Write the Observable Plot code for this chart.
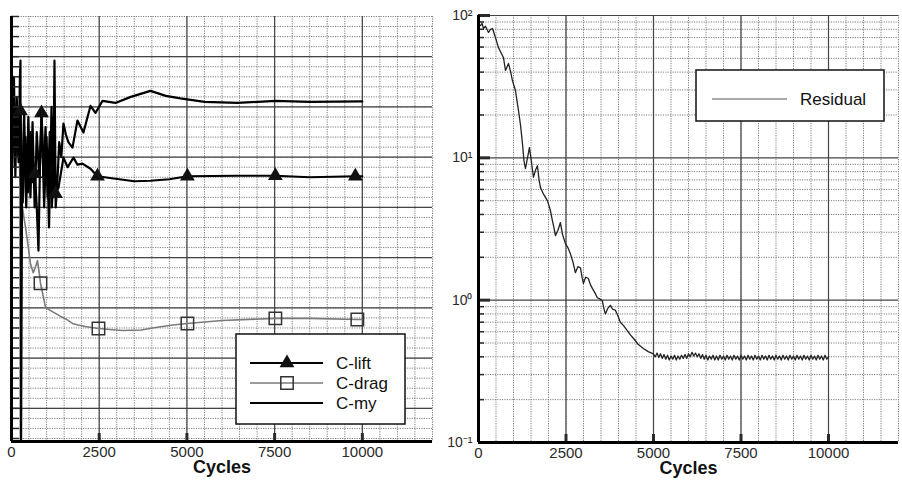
<!DOCTYPE html>
<html><head><meta charset="utf-8">
<script src="https://cdn.jsdelivr.net/npm/d3@7"></script>
<script src="https://cdn.jsdelivr.net/npm/@observablehq/plot@0.6"></script>
<style>
body{margin:0;background:#fff;}
#wrap{position:relative;width:902px;height:485px;font-family:"Liberation Sans",Arial,sans-serif;}
#left{position:absolute;left:0;top:0;}
#right{position:absolute;left:445px;top:0;}
</style></head><body><div id="wrap"><div id="left"></div><div id="right"></div></div>
<script>
// ---------- shared x ticks ----------
const xTickValues = [0, 2500, 5000, 7500, 10000];
const xTickLabels = ["0", "2500", "5000", "7500", "10000"];
const xMajorGrid = [2500, 5000, 7500, 10000];
const xMinorGrid = d3.range(500, 12001, 500);
const axisTitle = "Cycles";

// ---------- left panel: coefficients ----------
const myCycles = [0, 30, 70, 110, 150, 200, 240, 256, 262, 268, 300, 360, 420, 480, 540, 600, 660, 720, 790, 860, 930, 1000, 1070, 1140, 1190, 1225, 1260, 1300, 1360, 1420, 1481, 1550, 1620, 1738, 1880, 2051, 2251, 2393, 2593, 2963, 3400, 3960, 4400, 4815, 5500, 6439, 7521, 8500, 10000];
const myValues = [8.0, 6.2, 7.6, 5.6, 7.2, 5.9, 7.6, 7.92, 3.0, -0.5, 5.2, 6.9, 5.0, 6.8, 5.2, 6.7, 5.0, 6.5, 5.6, 6.9, 5.0, 6.4, 4.6, 7.0, 5.2, 7.92, 5.0, 5.4, 6.3, 6.0, 6.67, 6.45, 6.3, 6.19, 6.73, 6.49, 7.02, 6.88, 7.12, 7.08, 7.20, 7.32, 7.22, 7.17, 7.10, 7.08, 7.12, 7.10, 7.11];

const liftCycles = [0, 40, 90, 140, 200, 256, 320, 400, 470, 540, 610, 670, 720, 769, 810, 855, 910, 970, 1030, 1090, 1150, 1200, 1254, 1339, 1481, 1600, 1766, 1880, 2023, 2251, 2450, 2963, 3500, 3960, 4500, 5014, 6439, 7521, 8500, 9801, 10000];
const liftValues = [6.4, 7.0, 5.8, 6.8, 6.0, 6.92, 5.1, 6.4, 5.3, 6.5, 5.5, 5.67, 5.0, 4.14, 5.8, 6.88, 5.6, 6.6, 5.2, 6.5, 5.0, 5.8, 5.27, 5.39, 5.99, 5.80, 5.99, 5.85, 5.87, 5.77, 5.62, 5.57, 5.52, 5.53, 5.56, 5.62, 5.63, 5.63, 5.60, 5.62, 5.62];
const liftMarkerCycles = [256, 670, 855, 1254, 2450, 5014, 7521, 9801];
const liftMarkerValues = [6.92, 5.67, 6.88, 5.27, 5.62, 5.62, 5.63, 5.62];

const dragCycles = [0, 30, 70, 120, 180, 240, 313, 400, 480, 541, 620, 700, 740, 790, 826, 900, 969, 1100, 1254, 1400, 1550, 1738, 1900, 2100, 2479, 2800, 3162, 3700, 4103, 4600, 5014, 6000, 7521, 8500, 9858, 10000];
const dragValues = [7.8, 6.3, 7.4, 6.0, 6.8, 5.6, 4.98, 4.6, 4.2, 3.88, 3.70, 3.85, 3.94, 3.70, 3.49, 3.25, 3.01, 2.95, 2.89, 2.83, 2.78, 2.69, 2.66, 2.63, 2.59, 2.57, 2.55, 2.56, 2.61, 2.66, 2.69, 2.75, 2.79, 2.79, 2.77, 2.77];
const dragMarkerCycles = [826, 2479, 5014, 7521, 9858];
const dragMarkerValues = [3.49, 2.59, 2.69, 2.79, 2.77];

const leftYDomain = [0.34, 8.8];
const leftYMajor = [1, 2, 3, 4, 5, 6, 7, 8];
const leftYMinor = d3.range(0.4, 8.81, 0.2).map(v => +v.toFixed(1));
const leftLegend = ["C-lift", "C-drag", "C-my"];

// ---------- right panel: residual ----------
const resCycles = [57, 100, 143, 200, 285, 340, 400, 485, 571, 640, 713, 771, 856, 920, 970, 1056, 1142, 1200, 1256, 1300, 1341, 1400, 1455, 1510, 1570, 1630, 1684, 1730, 1769, 1850, 1969, 2050, 2112, 2160, 2198, 2270, 2340, 2400, 2483, 2550, 2626, 2700, 2768, 2840, 2911, 2960, 2997, 3060, 3139, 3200, 3253, 3330, 3396, 3470, 3539, 3580, 3624, 3700, 3767, 3840, 3910, 3980, 4053, 4150, 4252, 4340, 4424, 4560, 4709, 4850, 4994,
  5050, 5100, 5150, 5200, 5250, 5300, 5350, 5400, 5450, 5500, 5550, 5600, 5650, 5700, 5750, 5800, 5850, 5900, 5950, 6000, 6050, 6100, 6150, 6200, 6250, 6300, 6350, 6400, 6450, 6500, 6550, 6600, 6650, 6700, 6750, 6800, 6850, 6900, 6950, 7000, 7050, 7100, 7150, 7200, 7250, 7300, 7350, 7400, 7450, 7500, 7550, 7600, 7650, 7700, 7750, 7800, 7850, 7900, 7950, 8000, 8050, 8100, 8150, 8200, 8250, 8300, 8350, 8400, 8450, 8500, 8550, 8600, 8650, 8700, 8750, 8800, 8850, 8900, 8950, 9000, 9050, 9100, 9150, 9200, 9250, 9300, 9350, 9400, 9450, 9500, 9550, 9600, 9650, 9700, 9750, 9800, 9850, 9900, 9950, 10000];
const resValues = [85, 88, 81, 84, 76, 80, 81, 70, 59.5, 55, 50.7, 41.1, 46, 40, 34.9, 29.7, 21.5, 17, 12.6, 9.5, 8.4, 10, 11.8, 9.5, 7.3, 8.2, 8.8, 7.0, 6.2, 5.6, 5.0, 4.3, 3.62, 3.2, 2.84, 3.1, 3.51, 2.9, 2.50, 2.35, 2.12, 1.85, 1.56, 1.72, 1.69, 1.45, 1.31, 1.45, 1.42, 1.28, 1.21, 1.12, 1.04, 1.02, 0.99, 0.88, 0.80, 0.88, 0.92, 0.86, 0.85, 0.78, 0.70, 0.66, 0.61, 0.57, 0.54, 0.49, 0.457, 0.435, 0.42,
  0.40, 0.425, 0.395, 0.42, 0.39, 0.415, 0.385, 0.41, 0.38, 0.405, 0.385, 0.41, 0.38, 0.405, 0.385, 0.41, 0.39, 0.415, 0.39, 0.42, 0.40, 0.43, 0.405, 0.425, 0.40, 0.42, 0.39, 0.415, 0.385, 0.41, 0.38, 0.405, 0.385, 0.41, 0.38, 0.405, 0.38, 0.41, 0.385, 0.405, 0.38, 0.41, 0.385, 0.405, 0.38, 0.41, 0.385, 0.405, 0.38, 0.41, 0.385, 0.405, 0.38, 0.41, 0.385, 0.405, 0.38, 0.41, 0.385, 0.405, 0.38, 0.41, 0.385, 0.405, 0.38, 0.41, 0.385, 0.405, 0.38, 0.41, 0.385, 0.405, 0.38, 0.41, 0.385, 0.405, 0.38, 0.41, 0.385, 0.405, 0.38, 0.41, 0.385, 0.405, 0.38, 0.41, 0.385, 0.405, 0.38, 0.41, 0.385, 0.405, 0.38, 0.41, 0.385, 0.405, 0.38, 0.41, 0.385, 0.40];
const rightYTicks = [0.1, 1, 10, 100];
const rightYLabels = ["10\u207B\u00B9", "10\u2070", "10\u00B9", "10\u00B2"];
const rightYMinor = [0.2, 0.3, 0.4, 0.5, 0.6, 0.7, 0.8, 0.9, 2, 3, 4, 5, 6, 7, 8, 9, 20, 30, 40, 50, 60, 70, 80, 90];
const rightLegend = "Residual";

// ---------- tables ----------
const zipXY = (xs, ys) => xs.map((c, i) => ({c, v: ys[i]}));
const myData = zipXY(myCycles, myValues);
const liftData = zipXY(liftCycles, liftValues);
const liftMarks = zipXY(liftMarkerCycles, liftMarkerValues);
const dragData = zipXY(dragCycles, dragValues);
const dragMarks = zipXY(dragMarkerCycles, dragMarkerValues);
const resData = zipXY(resCycles, resValues);

const FONT = "'Liberation Sans', Arial, Helvetica, sans-serif";
const minorStyle = {stroke: "#7f7f7f", strokeOpacity: 1, strokeDasharray: "1.2,1.2", strokeWidth: 1};
const majorStyle = {stroke: "#444", strokeOpacity: 1, strokeWidth: 1.2};
const labelFmt = d => xTickLabels[xTickValues.indexOf(d)];

// ---------- left plot ----------
const leftPlot = Plot.plot({
  width: 445, height: 485,
  marginLeft: 11, marginRight: 13, marginTop: 16, marginBottom: 44,
  x: {domain: [0, 12000]},
  y: {domain: leftYDomain},
  style: {fontFamily: FONT, background: "white", color: "#2a2a2a"},
  marks: [
    Plot.gridX(xMinorGrid, minorStyle),
    Plot.gridY(leftYMinor, minorStyle),
    Plot.gridX(xMajorGrid, majorStyle),
    Plot.gridY(leftYMajor, majorStyle),
    Plot.line(dragData, {x: "c", y: "v", stroke: "#7a7a7a", strokeWidth: 1.6, clip: true}),
    Plot.line(myData, {x: "c", y: "v", stroke: "#000", strokeWidth: 2.2, clip: true}),
    Plot.line(liftData, {x: "c", y: "v", stroke: "#000", strokeWidth: 2.2, clip: true}),
    Plot.dot(dragMarks, {x: "c", y: "v", symbol: "square", r: 7, stroke: "#333", strokeWidth: 1.5, fill: "none"}),
    Plot.dot(liftMarks, {x: "c", y: "v", symbol: "triangle", r: 5.5, fill: "#111", stroke: "none"}),
    Plot.axisX(xTickValues, {tickSize: 0, tickPadding: 5, fontSize: 15, tickFormat: labelFmt, label: null}),
    Plot.axisX(xMajorGrid, {tickSize: 8, dy: -8, tickFormat: () => "", strokeWidth: 3, label: null}),
    Plot.axisY(leftYMinor, {tickSize: 8, dx: 8, tickFormat: () => "", strokeWidth: 1.5, label: null}),
    Plot.ruleX([0], {stroke: "#000", strokeWidth: 3}),
    Plot.ruleY([leftYDomain[0]], {stroke: "#000", strokeWidth: 3}),
    Plot.text([axisTitle], {frameAnchor: "bottom", dy: 31, fontSize: 18, fontWeight: "bold", fill: "#111"})
  ]
});
document.getElementById("left").appendChild(leftPlot);

// ---------- right plot ----------
const rightPlot = Plot.plot({
  width: 457, height: 485,
  marginLeft: 33, marginRight: 4, marginTop: 15, marginBottom: 43,
  x: {domain: [0, 12000]},
  y: {type: "log", domain: [0.1, 100]},
  style: {fontFamily: FONT, background: "white", color: "#2a2a2a"},
  marks: [
    Plot.gridX(xMinorGrid, minorStyle),
    Plot.gridY(rightYMinor, minorStyle),
    Plot.gridX(xMajorGrid, majorStyle),
    Plot.gridY([1, 10, 100], majorStyle),
    Plot.line(resData, {x: "c", y: "v", stroke: "#222", strokeWidth: 1.3, clip: true}),
    Plot.axisX(xTickValues, {tickSize: 0, tickPadding: 5, fontSize: 15, tickFormat: labelFmt, label: null}),
    Plot.axisX(xMajorGrid, {tickSize: 8, dy: -8, tickFormat: () => "", strokeWidth: 3, label: null}),
    Plot.axisY(rightYMinor, {tickSize: 6, dx: 6, tickFormat: () => "", strokeWidth: 1.5, label: null}),
    Plot.axisY(rightYTicks, {tickSize: 12, dx: 12, tickFormat: () => "", strokeWidth: 3, label: null}),
    Plot.axisY(rightYTicks, {tickSize: 0, tickPadding: 6, fontSize: 14, tickFormat: d => rightYLabels[rightYTicks.indexOf(d)], label: null}),
    Plot.ruleX([0], {stroke: "#000", strokeWidth: 3}),
    Plot.ruleY([0.1], {stroke: "#000", strokeWidth: 3}),
    Plot.text([axisTitle], {frameAnchor: "bottom", dy: 31, fontSize: 18, fontWeight: "bold", fill: "#111"})
  ]
});
document.getElementById("right").appendChild(rightPlot);

// ---------- legends ----------
{
  const g = d3.select(leftPlot).append("g").attr("font-family", FONT).attr("text-anchor", "start");
  g.append("rect").attr("x", 236).attr("y", 334).attr("width", 169).attr("height", 90)
    .attr("fill", "white").attr("stroke", "#111").attr("stroke-width", 1.5);
  const rows = [363, 383, 403];
  const styles = [
    {stroke: "#000", w: 2.2, sym: "tri"},
    {stroke: "#7a7a7a", w: 1.6, sym: "sq"},
    {stroke: "#000", w: 2.2, sym: null}
  ];
  leftLegend.forEach((name, i) => {
    const y = rows[i], s = styles[i];
    g.append("line").attr("x1", 250).attr("x2", 323).attr("y1", y).attr("y2", y)
      .attr("stroke", s.stroke).attr("stroke-width", s.w);
    if (s.sym === "tri") g.append("path").attr("transform", `translate(287,${y})`)
      .attr("d", d3.symbol(d3.symbolTriangle, Math.PI * 5.5 * 5.5)()).attr("fill", "#111");
    if (s.sym === "sq") g.append("path").attr("transform", `translate(287,${y})`)
      .attr("d", d3.symbol(d3.symbolSquare, Math.PI * 7 * 7)()).attr("fill", "none")
      .attr("stroke", "#333").attr("stroke-width", 1.5);
    g.append("text").attr("x", 336).attr("y", y).attr("dy", "0.35em").attr("text-anchor", "start")
      .attr("font-size", 17).attr("fill", "#111").text(name);
  });
}
{
  const g = d3.select(rightPlot).append("g").attr("font-family", FONT).attr("text-anchor", "start");
  g.append("rect").attr("x", 251).attr("y", 70).attr("width", 188).attr("height", 51)
    .attr("fill", "white").attr("stroke", "#111").attr("stroke-width", 1.5);
  g.append("line").attr("x1", 267).attr("x2", 342).attr("y1", 99).attr("y2", 99)
    .attr("stroke", "#555").attr("stroke-width", 1.2);
  g.append("text").attr("x", 355).attr("y", 99).attr("dy", "0.35em").attr("text-anchor", "start")
    .attr("font-size", 17).attr("fill", "#111").text(rightLegend);
}
</script></body></html>
